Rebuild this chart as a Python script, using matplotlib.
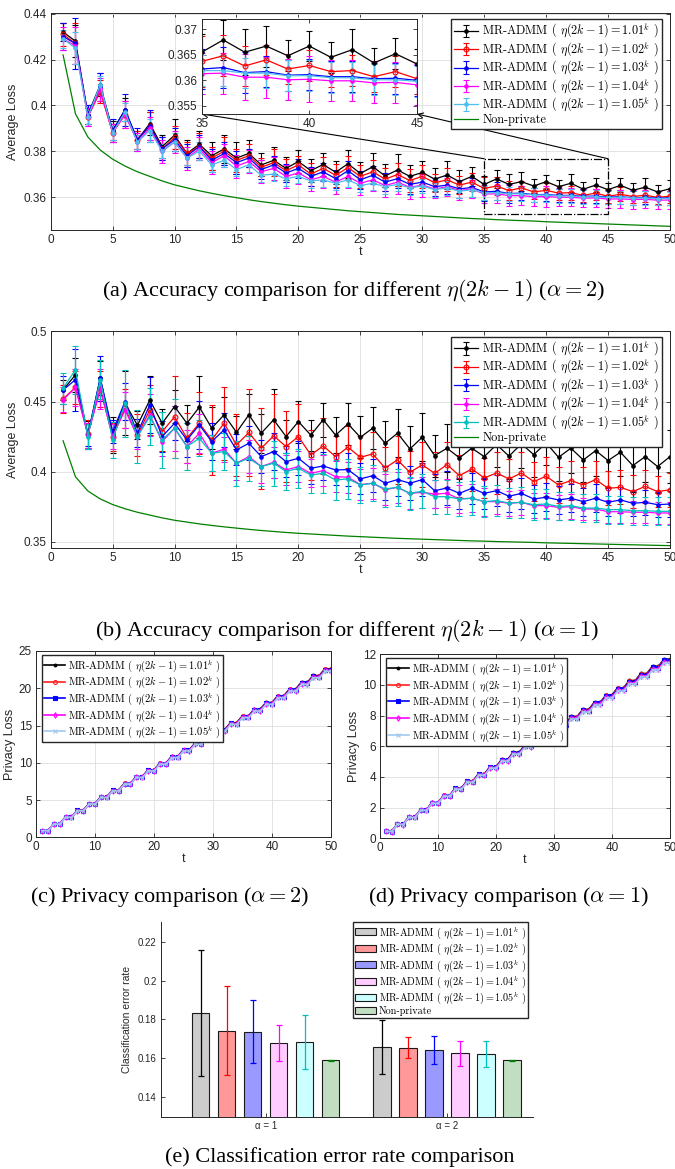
import matplotlib
matplotlib.use('Agg')
import matplotlib.pyplot as plt
from matplotlib.patches import Rectangle
from matplotlib.ticker import FormatStrFormatter
import numpy as np

plt.rcParams['font.family'] = ['Liberation Sans', 'DejaVu Sans']
plt.rcParams['mathtext.fontset'] = 'cm'
plt.rcParams['axes.unicode_minus'] = False

W, H = 675, 1169

T = np.arange(1, 51)
ETA_BASES = ['1.01', '1.02', '1.03', '1.04', '1.05']

# ---- average loss, alpha = 2 ----
A2_LOSS_101 = [0.432, 0.428, 0.396, 0.409, 0.389, 0.398, 0.385, 0.392, 0.382, 0.387,
               0.379, 0.383, 0.378, 0.381, 0.377, 0.379, 0.374, 0.376, 0.3725, 0.3755,
               0.3715, 0.3742, 0.3708, 0.3745, 0.3703, 0.3732, 0.3692, 0.3718, 0.369, 0.3707,
               0.3678, 0.3696, 0.3667, 0.369, 0.3655, 0.3679, 0.3655, 0.3667, 0.3648, 0.3667,
               0.3645, 0.366, 0.3634, 0.3652, 0.3632, 0.3651, 0.3629, 0.3643, 0.3622, 0.3636]
A2_LOSS_102 = [0.431, 0.427, 0.395, 0.406, 0.388, 0.396, 0.385, 0.391, 0.381, 0.386,
               0.379, 0.382, 0.377, 0.380, 0.376, 0.378, 0.373, 0.375, 0.3715, 0.374,
               0.370, 0.3725, 0.3695, 0.3728, 0.369, 0.371, 0.3678, 0.3698, 0.3672, 0.369,
               0.3662, 0.3675, 0.3652, 0.3665, 0.3637, 0.3648, 0.3628, 0.364, 0.3622, 0.3629,
               0.3617, 0.3619, 0.3607, 0.3617, 0.3603, 0.3612, 0.3602, 0.3608, 0.3598, 0.3604]
A2_LOSS_103 = [0.430, 0.427, 0.396, 0.408, 0.389, 0.398, 0.385, 0.391, 0.381, 0.385,
               0.378, 0.382, 0.376, 0.379, 0.375, 0.377, 0.372, 0.374, 0.3705, 0.3725,
               0.369, 0.371, 0.368, 0.3715, 0.3675, 0.3695, 0.3665, 0.368, 0.3655, 0.3665,
               0.3645, 0.3652, 0.3635, 0.3642, 0.3622, 0.3625, 0.3615, 0.3617, 0.361, 0.3611,
               0.3607, 0.3607, 0.3603, 0.3604, 0.360, 0.3601, 0.3597, 0.3598, 0.3595, 0.3596]
A2_LOSS_104 = [0.429, 0.426, 0.395, 0.407, 0.388, 0.396, 0.384, 0.390, 0.380, 0.384,
               0.377, 0.381, 0.375, 0.378, 0.3735, 0.3755, 0.371, 0.3725, 0.369, 0.3705,
               0.3675, 0.369, 0.3665, 0.369, 0.366, 0.3675, 0.365, 0.3665, 0.3642, 0.3652,
               0.3635, 0.3645, 0.3628, 0.3635, 0.3613, 0.3614, 0.3606, 0.3606, 0.3601, 0.3602,
               0.3599, 0.3599, 0.3595, 0.3596, 0.3591, 0.3592, 0.3589, 0.359, 0.3586, 0.3587]
A2_LOSS_105 = [0.429, 0.425, 0.395, 0.409, 0.388, 0.397, 0.384, 0.389, 0.380, 0.384,
               0.377, 0.380, 0.374, 0.376, 0.372, 0.374, 0.3695, 0.370, 0.368, 0.369,
               0.367, 0.3675, 0.366, 0.3675, 0.365, 0.366, 0.3645, 0.3655, 0.364, 0.3648,
               0.3632, 0.364, 0.3625, 0.3632, 0.3619, 0.3619, 0.3614, 0.3614, 0.3609, 0.3609,
               0.3605, 0.3605, 0.3601, 0.3601, 0.3598, 0.3598, 0.3596, 0.3596, 0.3593, 0.3594]

A2_ERR_101 = [0.004, 0.007, 0.004, 0.005, 0.004, 0.005, 0.004, 0.005, 0.005, 0.007,
              0.006, 0.006, 0.006, 0.006, 0.007, 0.006, 0.005, 0.006, 0.005, 0.005,
              0.005, 0.005, 0.005, 0.006, 0.005, 0.006, 0.005, 0.007, 0.005, 0.005,
              0.005, 0.006, 0.005, 0.004, 0.0035, 0.004, 0.0045, 0.004, 0.003, 0.003,
              0.003, 0.004, 0.003, 0.003, 0.003, 0.003, 0.003, 0.004, 0.003, 0.004]
A2_ERR_102 = [0.005, 0.009, 0.004, 0.005, 0.004, 0.006, 0.004, 0.006, 0.005, 0.005,
              0.005, 0.006, 0.005, 0.006, 0.005, 0.005, 0.004, 0.006, 0.005, 0.004,
              0.005, 0.005, 0.005, 0.005, 0.005, 0.005, 0.005, 0.005, 0.005, 0.005,
              0.004, 0.005, 0.004, 0.004, 0.005, 0.004, 0.004, 0.003, 0.003, 0.003,
              0.003, 0.003, 0.003, 0.003, 0.003, 0.003, 0.003, 0.003, 0.003, 0.003]
A2_ERR_103 = [0.006, 0.011, 0.004, 0.006, 0.005, 0.007, 0.005, 0.007, 0.005, 0.005,
              0.005, 0.005, 0.005, 0.005, 0.005, 0.004, 0.004, 0.004, 0.004, 0.004,
              0.004, 0.004, 0.004, 0.004, 0.004, 0.004, 0.004, 0.004, 0.004, 0.004,
              0.004, 0.004, 0.004, 0.004, 0.004, 0.004, 0.004, 0.003, 0.003, 0.003,
              0.003, 0.003, 0.003, 0.003, 0.003, 0.003, 0.003, 0.003, 0.003, 0.003]
A2_ERR_104 = [0.005, 0.008, 0.004, 0.005, 0.004, 0.006, 0.004, 0.005, 0.005, 0.005,
              0.005, 0.005, 0.005, 0.005, 0.005, 0.005, 0.005, 0.005, 0.005, 0.005,
              0.005, 0.005, 0.005, 0.005, 0.005, 0.005, 0.005, 0.005, 0.005, 0.005,
              0.004, 0.004, 0.004, 0.004, 0.004, 0.004, 0.0045, 0.004, 0.004, 0.0045,
              0.004, 0.004, 0.004, 0.004, 0.004, 0.004, 0.004, 0.004, 0.004, 0.004]
A2_ERR_105 = [0.004, 0.007, 0.003, 0.004, 0.003, 0.004, 0.003, 0.005, 0.003, 0.004,
              0.003, 0.004, 0.003, 0.003, 0.003, 0.003, 0.003, 0.003, 0.003, 0.003,
              0.003, 0.003, 0.003, 0.003, 0.003, 0.003, 0.003, 0.003, 0.003, 0.003,
              0.003, 0.003, 0.003, 0.003, 0.003, 0.003, 0.003, 0.003, 0.003, 0.003,
              0.003, 0.003, 0.003, 0.003, 0.003, 0.003, 0.003, 0.003, 0.003, 0.003]

# ---- average loss, alpha = 1 ----
A1_LOSS_101 = [0.4583, 0.469, 0.426, 0.4667, 0.426, 0.449, 0.433, 0.451, 0.4345, 0.4464,
               0.4345, 0.446, 0.431, 0.4405, 0.428, 0.4405, 0.4274, 0.437, 0.425, 0.4357,
               0.426, 0.437, 0.426, 0.434, 0.4245, 0.431, 0.4202, 0.4274, 0.4162, 0.4245,
               0.4114, 0.4167, 0.4098, 0.4167, 0.4107, 0.4193, 0.411, 0.4198, 0.4121, 0.4205,
               0.4102, 0.4167, 0.4083, 0.415, 0.4079, 0.4138, 0.4043, 0.4107, 0.4036, 0.4107]
A1_LOSS_102 = [0.4519, 0.460, 0.427, 0.459, 0.425, 0.4452, 0.426, 0.444, 0.4286, 0.439,
               0.4238, 0.4345, 0.4226, 0.4345, 0.419, 0.4279, 0.4167, 0.4255, 0.4179, 0.425,
               0.4119, 0.4183, 0.4107, 0.4174, 0.4102, 0.4126, 0.4026, 0.4083, 0.3995, 0.4048,
               0.3988, 0.405, 0.3971, 0.4019, 0.3955, 0.399, 0.3948, 0.399, 0.3929, 0.3967,
               0.3905, 0.3936, 0.3905, 0.3943, 0.3881, 0.3888, 0.3857, 0.3895, 0.3857, 0.3871]
A1_LOSS_103 = [0.4583, 0.4655, 0.426, 0.4667, 0.4286, 0.450, 0.4274, 0.4476, 0.425, 0.4345,
               0.4226, 0.4333, 0.4214, 0.4298, 0.4155, 0.4202, 0.4107, 0.4143, 0.4071, 0.4095,
               0.4024, 0.404, 0.4012, 0.4014, 0.3948, 0.3971, 0.3917, 0.3943, 0.3917, 0.3943,
               0.3864, 0.3883, 0.3845, 0.3881, 0.3845, 0.3864, 0.3824, 0.3845, 0.3805, 0.3817,
               0.3798, 0.381, 0.3786, 0.381, 0.3781, 0.3798, 0.3774, 0.3781, 0.3764, 0.3769]
A1_LOSS_104 = [0.4512, 0.460, 0.426, 0.459, 0.425, 0.444, 0.425, 0.4405, 0.4214, 0.431,
               0.4179, 0.4274, 0.4131, 0.416, 0.406, 0.4107, 0.4036, 0.4067, 0.4012, 0.4036,
               0.3988, 0.4007, 0.3964, 0.396, 0.3907, 0.3917, 0.3871, 0.3888, 0.3845, 0.3852,
               0.384, 0.3845, 0.3805, 0.381, 0.3786, 0.3786, 0.3774, 0.3781, 0.3757, 0.3757,
               0.3745, 0.375, 0.3733, 0.3733, 0.3714, 0.3714, 0.371, 0.371, 0.3705, 0.3705]
A1_LOSS_105 = [0.4595, 0.4726, 0.425, 0.4655, 0.4226, 0.4488, 0.425, 0.4393, 0.4226, 0.431,
               0.4179, 0.4238, 0.4131, 0.4143, 0.406, 0.4095, 0.4036, 0.406, 0.400, 0.4024,
               0.3976, 0.3988, 0.394, 0.3948, 0.3905, 0.3917, 0.3876, 0.3888, 0.3845, 0.386,
               0.3821, 0.3821, 0.3805, 0.381, 0.3786, 0.3793, 0.3776, 0.3781, 0.3764, 0.3769,
               0.3752, 0.3757, 0.374, 0.374, 0.3729, 0.3729, 0.3721, 0.3721, 0.3717, 0.3717]

A1_ERR_101 = [0.007, 0.012, 0.010, 0.012, 0.013, 0.023, 0.010, 0.017, 0.010, 0.012,
              0.013, 0.022, 0.015, 0.013, 0.012, 0.015, 0.014, 0.022, 0.012, 0.015,
              0.011, 0.012, 0.013, 0.015, 0.015, 0.015, 0.016, 0.017, 0.016, 0.017,
              0.015, 0.017, 0.015, 0.016, 0.016, 0.016, 0.016, 0.017, 0.016, 0.016,
              0.017, 0.018, 0.016, 0.018, 0.019, 0.017, 0.019, 0.018, 0.019, 0.019]
A1_ERR_102 = [0.010, 0.012, 0.010, 0.013, 0.010, 0.014, 0.015, 0.018, 0.014, 0.029,
              0.018, 0.022, 0.025, 0.026, 0.022, 0.031, 0.029, 0.030, 0.025, 0.023,
              0.018, 0.020, 0.015, 0.015, 0.015, 0.016, 0.015, 0.017, 0.015, 0.016,
              0.015, 0.016, 0.015, 0.016, 0.014, 0.015, 0.014, 0.015, 0.014, 0.014,
              0.013, 0.014, 0.013, 0.013, 0.012, 0.012, 0.012, 0.012, 0.011, 0.012]
A1_ERR_103 = [0.010, 0.022, 0.008, 0.016, 0.008, 0.013, 0.010, 0.020, 0.011, 0.012,
              0.012, 0.017, 0.013, 0.012, 0.011, 0.012, 0.012, 0.013, 0.011, 0.012,
              0.011, 0.010, 0.011, 0.012, 0.011, 0.012, 0.012, 0.012, 0.012, 0.012,
              0.012, 0.012, 0.011, 0.011, 0.011, 0.011, 0.011, 0.011, 0.010, 0.010,
              0.010, 0.010, 0.010, 0.010, 0.010, 0.009, 0.009, 0.009, 0.009, 0.009]
A1_ERR_104 = [0.009, 0.013, 0.009, 0.014, 0.009, 0.013, 0.009, 0.015, 0.010, 0.016,
              0.012, 0.014, 0.013, 0.009, 0.012, 0.012, 0.012, 0.011, 0.011, 0.011,
              0.010, 0.011, 0.011, 0.011, 0.011, 0.011, 0.011, 0.011, 0.011, 0.011,
              0.010, 0.010, 0.010, 0.010, 0.010, 0.009, 0.009, 0.009, 0.009, 0.009,
              0.009, 0.009, 0.008, 0.008, 0.008, 0.008, 0.008, 0.008, 0.008, 0.008]
A1_ERR_105 = [0.011, 0.017, 0.009, 0.014, 0.013, 0.024, 0.019, 0.020, 0.020, 0.021,
              0.017, 0.013, 0.013, 0.013, 0.016, 0.016, 0.014, 0.016, 0.013, 0.014,
              0.013, 0.014, 0.014, 0.014, 0.013, 0.013, 0.013, 0.013, 0.012, 0.012,
              0.012, 0.012, 0.012, 0.012, 0.011, 0.011, 0.011, 0.011, 0.011, 0.011,
              0.010, 0.010, 0.010, 0.010, 0.010, 0.010, 0.010, 0.010, 0.010, 0.010]

NONPRIVATE_LOSS = [0.4220, 0.3963, 0.3862, 0.3805, 0.3765, 0.3735, 0.3710, 0.3690, 0.3670, 0.3653,
                   0.3640, 0.3627, 0.3616, 0.3606, 0.3597, 0.3588, 0.3580, 0.3573, 0.3566, 0.3560,
                   0.3555, 0.3550, 0.3545, 0.3540, 0.3536, 0.3532, 0.3528, 0.3524, 0.3521, 0.3518,
                   0.3515, 0.3512, 0.3509, 0.3506, 0.3504, 0.3501, 0.3499, 0.3497, 0.3495, 0.3492,
                   0.3490, 0.3488, 0.3486, 0.3484, 0.3482, 0.3480, 0.3478, 0.3476, 0.3474, 0.3472]

# ---- privacy loss ----
PRIV_A2_101 = [0.91, 0.88, 1.81, 1.78, 2.72, 2.69, 3.62, 3.59, 4.53, 4.50,
               5.43, 5.40, 6.34, 6.31, 7.24, 7.21, 8.15, 8.12, 9.05, 9.02,
               9.96, 9.93, 10.86, 10.83, 11.77, 11.74, 12.67, 12.64, 13.58, 13.55,
               14.48, 14.45, 15.39, 15.36, 16.29, 16.26, 17.20, 17.17, 18.10, 18.07,
               19.01, 18.98, 19.91, 19.88, 20.82, 20.79, 21.72, 21.69, 22.63, 22.60]
PRIV_A2_102 = [0.90, 0.87, 1.80, 1.77, 2.71, 2.68, 3.61, 3.58, 4.51, 4.48,
               5.41, 5.38, 6.31, 6.28, 7.22, 7.19, 8.12, 8.09, 9.02, 8.99,
               9.92, 9.89, 10.82, 10.79, 11.73, 11.70, 12.63, 12.60, 13.53, 13.50,
               14.43, 14.40, 15.33, 15.30, 16.24, 16.21, 17.14, 17.11, 18.04, 18.01,
               18.94, 18.91, 19.84, 19.81, 20.75, 20.72, 21.65, 21.62, 22.55, 22.52]
PRIV_A2_103 = [0.90, 0.87, 1.80, 1.77, 2.70, 2.67, 3.60, 3.57, 4.50, 4.47,
               5.39, 5.36, 6.29, 6.26, 7.19, 7.16, 8.09, 8.06, 8.99, 8.96,
               9.89, 9.86, 10.79, 10.76, 11.69, 11.66, 12.59, 12.56, 13.49, 13.46,
               14.38, 14.35, 15.28, 15.25, 16.18, 16.15, 17.08, 17.05, 17.98, 17.95,
               18.88, 18.85, 19.78, 19.75, 20.68, 20.65, 21.58, 21.55, 22.48, 22.45]
PRIV_A2_104 = [0.90, 0.87, 1.79, 1.76, 2.69, 2.66, 3.58, 3.55, 4.48, 4.45,
               5.38, 5.35, 6.27, 6.24, 7.17, 7.14, 8.06, 8.03, 8.96, 8.93,
               9.86, 9.83, 10.75, 10.72, 11.65, 11.62, 12.54, 12.51, 13.44, 13.41,
               14.34, 14.31, 15.23, 15.20, 16.13, 16.10, 17.02, 16.99, 17.92, 17.89,
               18.82, 18.79, 19.71, 19.68, 20.61, 20.58, 21.50, 21.47, 22.40, 22.37]
PRIV_A2_105 = [0.89, 0.86, 1.78, 1.75, 2.68, 2.65, 3.57, 3.54, 4.46, 4.43,
               5.35, 5.32, 6.24, 6.21, 7.14, 7.11, 8.03, 8.00, 8.92, 8.89,
               9.81, 9.78, 10.70, 10.67, 11.60, 11.57, 12.49, 12.46, 13.38, 13.35,
               14.27, 14.24, 15.16, 15.13, 16.06, 16.03, 16.95, 16.92, 17.84, 17.81,
               18.73, 18.70, 19.62, 19.59, 20.52, 20.49, 21.41, 21.38, 22.30, 22.27]

PRIV_A1_101 = [0.47, 0.45, 0.94, 0.92, 1.40, 1.38, 1.87, 1.85, 2.34, 2.32,
               2.81, 2.79, 3.28, 3.26, 3.74, 3.72, 4.21, 4.19, 4.68, 4.66,
               5.15, 5.13, 5.62, 5.60, 6.08, 6.06, 6.55, 6.53, 7.02, 7.00,
               7.49, 7.47, 7.96, 7.94, 8.42, 8.40, 8.89, 8.87, 9.36, 9.34,
               9.83, 9.81, 10.30, 10.28, 10.76, 10.74, 11.23, 11.21, 11.70, 11.68]
PRIV_A1_102 = [0.47, 0.45, 0.93, 0.91, 1.40, 1.38, 1.86, 1.84, 2.33, 2.31,
               2.80, 2.78, 3.26, 3.24, 3.73, 3.71, 4.19, 4.17, 4.66, 4.64,
               5.13, 5.11, 5.59, 5.57, 6.06, 6.04, 6.52, 6.50, 6.99, 6.97,
               7.46, 7.44, 7.92, 7.90, 8.39, 8.37, 8.85, 8.83, 9.32, 9.30,
               9.79, 9.77, 10.25, 10.23, 10.72, 10.70, 11.18, 11.16, 11.65, 11.63]
PRIV_A1_103 = [0.46, 0.44, 0.93, 0.91, 1.39, 1.37, 1.86, 1.84, 2.32, 2.30,
               2.78, 2.76, 3.25, 3.23, 3.71, 3.69, 4.18, 4.16, 4.64, 4.62,
               5.10, 5.08, 5.57, 5.55, 6.03, 6.01, 6.50, 6.48, 6.96, 6.94,
               7.42, 7.40, 7.89, 7.87, 8.35, 8.33, 8.82, 8.80, 9.28, 9.26,
               9.74, 9.72, 10.21, 10.19, 10.67, 10.65, 11.14, 11.12, 11.60, 11.58]
PRIV_A1_104 = [0.46, 0.44, 0.92, 0.90, 1.38, 1.36, 1.84, 1.82, 2.31, 2.29,
               2.77, 2.75, 3.23, 3.21, 3.69, 3.67, 4.15, 4.13, 4.61, 4.59,
               5.07, 5.05, 5.53, 5.51, 5.99, 5.97, 6.45, 6.43, 6.92, 6.90,
               7.38, 7.36, 7.84, 7.82, 8.30, 8.28, 8.76, 8.74, 9.22, 9.20,
               9.68, 9.66, 10.14, 10.12, 10.60, 10.58, 11.06, 11.04, 11.53, 11.51]
PRIV_A1_105 = [0.46, 0.44, 0.92, 0.90, 1.37, 1.35, 1.83, 1.81, 2.29, 2.27,
               2.75, 2.73, 3.21, 3.19, 3.66, 3.64, 4.12, 4.10, 4.58, 4.56,
               5.04, 5.02, 5.50, 5.48, 5.95, 5.93, 6.41, 6.39, 6.87, 6.85,
               7.33, 7.31, 7.79, 7.77, 8.24, 8.22, 8.70, 8.68, 9.16, 9.14,
               9.62, 9.60, 10.08, 10.06, 10.53, 10.51, 10.99, 10.97, 11.45, 11.43]

# ---- classification error rate (6 methods, last = non-private) ----
METHOD_NAMES = ['1.01', '1.02', '1.03', '1.04', '1.05', 'Non-private']
ALPHA_GROUPS = ['α = 1', 'α = 2']
CER_A1 = [0.1834, 0.1742, 0.1738, 0.1681, 0.1683, 0.1591]
CER_A1_STD = [0.0325, 0.0230, 0.0164, 0.0093, 0.0138, 0.0002]
CER_A2 = [0.1660, 0.1655, 0.1643, 0.1626, 0.1624, 0.1591]
CER_A2_STD = [0.0139, 0.0054, 0.0072, 0.0065, 0.0066, 0.0002]

# zoomed window shown in the inset of (a)
ZOOM_T = (35, 45)
ZOOM_LOSS = (0.3525, 0.3767)

AX_GREY = '#262626'
GREEN = '#008000'
TICK_FS = 8.5
LABEL_FS = 9


def series_label(base):
    return r'MR-ADMM ( $\eta(2k-1)=%s^k$ )' % base


def px_axes(fig, left, top, right, bottom):
    return fig.add_axes([left / W, 1 - bottom / H, (right - left) / W, (bottom - top) / H])


def style_axes(ax, grid=True, size=TICK_FS, box=True):
    ax.tick_params(direction='in', top=box, right=box, length=3, width=0.6,
                   labelsize=size, colors=AX_GREY, pad=3)
    for name, s in ax.spines.items():
        s.set_linewidth(0.7)
        s.set_color(AX_GREY)
        if not box and name in ('top', 'right'):
            s.set_visible(False)
    if grid:
        ax.grid(True, color='#dedede', lw=0.6)
        ax.set_axisbelow(True)


def add_legend(ax, handles, loc, anchor, size, spacing=0.0, pad=0.3):
    ax.legend(handles=handles, loc=loc, bbox_to_anchor=anchor,
              prop={'family': 'cmr10', 'size': size}, fancybox=False, framealpha=1,
              edgecolor=AX_GREY, borderpad=pad, labelspacing=spacing,
              handlelength=2.0, handletextpad=0.3, borderaxespad=0)


def caption(fig, x, y, text, size=16):
    fig.text(x / W, 1 - y / H, text, ha='center', va='center', fontsize=size,
             family='Liberation Serif', math_fontfamily='cm')


def draw_loss(ax, means, errs, colors, markers):
    handles = []
    for m, e, c, mk, base in zip(means, errs, colors, markers, ETA_BASES):
        h = ax.errorbar(T, m, yerr=e, color=c, marker=mk, ms=3.5 if mk == 'o' else 5,
                        mfc='none' if mk == 'o' else c, mew=0.8, lw=0.9,
                        elinewidth=0.8, capsize=2, capthick=0.8, label=series_label(base))
        handles.append(h)
    handles += ax.plot(T, NONPRIVATE_LOSS, color=GREEN, lw=0.9, label='Non-private')
    return handles


fig = plt.figure(figsize=(W / 100, H / 100), dpi=100)

# ---------------- (a) ----------------
a2_means = [A2_LOSS_101, A2_LOSS_102, A2_LOSS_103, A2_LOSS_104, A2_LOSS_105]
a2_errs = [A2_ERR_101, A2_ERR_102, A2_ERR_103, A2_ERR_104, A2_ERR_105]
a2_colors = ['k', '#ff0000', '#0000ff', '#ff00ff', '#4dbeee']
loss_markers = ['.', 'o', '.', '.', '.']

ax = px_axes(fig, 50.7, 13, 670, 230)
hs = draw_loss(ax, a2_means, a2_errs, a2_colors, loss_markers)
ax.set_xlim(0, 50)
ax.set_ylim(0.3456, 0.4403)
ax.set_xticks(range(0, 51, 5))
ax.set_yticks([0.36, 0.38, 0.40, 0.42, 0.44])
ax.yaxis.set_major_formatter(FormatStrFormatter('%g'))
style_axes(ax)
ax.set_xlabel('t', fontsize=LABEL_FS, color=AX_GREY, labelpad=0)
ax.set_ylabel('Average Loss', fontsize=LABEL_FS, color=AX_GREY, labelpad=3)
add_legend(ax, hs, 'upper right', (0.987, 0.973), 8.8, pad=0.25)
ax.add_patch(Rectangle((ZOOM_T[0], ZOOM_LOSS[0]), ZOOM_T[1] - ZOOM_T[0],
                       ZOOM_LOSS[1] - ZOOM_LOSS[0], fill=False, ls='-.', lw=0.9, ec='k', zorder=5))

axins = px_axes(fig, 201.7, 19, 417, 114)
draw_loss(axins, a2_means, a2_errs, a2_colors, loss_markers)
axins.set_xlim(*ZOOM_T)
axins.set_ylim(0.3534, 0.372)
axins.set_xticks([35, 40, 45])
axins.set_yticks([0.355, 0.36, 0.365, 0.37])
axins.yaxis.set_major_formatter(FormatStrFormatter('%g'))
style_axes(axins, grid=False)
for corner, tx in ((0, ZOOM_T[0]), (1, ZOOM_T[1])):
    ax.annotate('', xy=(corner, 0), xycoords=axins.transAxes,
                xytext=(tx, ZOOM_LOSS[1]), textcoords='data', annotation_clip=False,
                arrowprops=dict(arrowstyle='->', lw=0.8, color='k', mutation_scale=9,
                                shrinkA=0, shrinkB=0))

caption(fig, 354, 290, r'(a) Accuracy comparison for different $\eta(2k-1)$ ($\alpha=2$)')

# ---------------- (b) ----------------
a1_means = [A1_LOSS_101, A1_LOSS_102, A1_LOSS_103, A1_LOSS_104, A1_LOSS_105]
a1_errs = [A1_ERR_101, A1_ERR_102, A1_ERR_103, A1_ERR_104, A1_ERR_105]
a1_colors = ['k', '#ff0000', '#0000ff', '#ff00ff', '#00bfbf']

bx = px_axes(fig, 50.7, 330.7, 670, 548.3)
hs = draw_loss(bx, a1_means, a1_errs, a1_colors, loss_markers)
bx.set_xlim(0, 50)
bx.set_ylim(0.3453, 0.5005)
bx.set_xticks(range(0, 51, 5))
bx.set_yticks([0.35, 0.40, 0.45, 0.50])
bx.yaxis.set_major_formatter(FormatStrFormatter('%g'))
style_axes(bx)
bx.set_xlabel('t', fontsize=LABEL_FS, color=AX_GREY, labelpad=0)
bx.set_ylabel('Average Loss', fontsize=LABEL_FS, color=AX_GREY, labelpad=3)
add_legend(bx, hs, 'upper right', (0.987, 0.973), 8.8, pad=0.25)
caption(fig, 347, 630, r'(b) Accuracy comparison for different $\eta(2k-1)$ ($\alpha=1$)')

# ---------------- (c), (d) privacy ----------------
priv_colors = ['k', '#ff2020', '#0000ff', '#ff00ff', '#a0c8f0']
priv_markers = ['.', 'o', 's', 'd', 'x']


def draw_privacy(ax, series, ymax, ystep):
    handles = []
    for vals, c, mk, base in zip(series, priv_colors, priv_markers, ETA_BASES):
        hollow = mk in ('o', 'd')
        handles += ax.plot(T, vals, color=c, marker=mk, ms=4 if mk == '.' else 2.8,
                           mfc='none' if hollow else c, mew=0.8, lw=1.2,
                           label=series_label(base))
    ax.set_xlim(0, 50)
    ax.set_ylim(0, ymax)
    ax.set_xticks(range(0, 51, 10))
    ax.set_yticks(np.arange(0, ymax + 0.1, ystep))
    style_axes(ax)
    ax.set_xlabel('t', fontsize=LABEL_FS, color=AX_GREY, labelpad=0)
    ax.set_ylabel('Privacy Loss', fontsize=LABEL_FS, color=AX_GREY, labelpad=2)
    add_legend(ax, handles, 'upper left', (0.02, 0.978), 7.6, pad=0.2)


cx = px_axes(fig, 36, 651, 331, 837.3)
draw_privacy(cx, [PRIV_A2_101, PRIV_A2_102, PRIV_A2_103, PRIV_A2_104, PRIV_A2_105], 25, 5)
caption(fig, 170, 897, r'(c) Privacy comparison ($\alpha=2$)')

dx = px_axes(fig, 380, 654.3, 670, 838.3)
draw_privacy(dx, [PRIV_A1_101, PRIV_A1_102, PRIV_A1_103, PRIV_A1_104, PRIV_A1_105], 12, 2)
caption(fig, 508, 897, r'(d) Privacy comparison ($\alpha=1$)')

# ---------------- (e) classification error ----------------
bar_faces = ['#cccccc', '#ff9999', '#9999ff', '#ffccff', '#ccffff', '#c2dec2']
bar_err_colors = ['k', '#ff0000', '#0000ff', '#ff00ff', '#00bfbf', GREEN]

ex = px_axes(fig, 161, 921.7, 533.3, 1116.7)
group_x = np.arange(1, len(ALPHA_GROUPS) + 1)
bar_w = 0.096
step = 0.1434
bar_handles = []
for i, name in enumerate(METHOD_NAMES):
    xs = group_x + (i - (len(METHOD_NAMES) - 1) / 2) * step
    label = name if name == 'Non-private' else series_label(name)
    bar_handles.append(ex.bar(xs, [CER_A1[i], CER_A2[i]], width=bar_w, color=bar_faces[i],
                              edgecolor='#1a1a1a', lw=0.8, label=label))
    ex.errorbar(xs, [CER_A1[i], CER_A2[i]], yerr=[CER_A1_STD[i], CER_A2_STD[i]],
                fmt='none', ecolor=bar_err_colors[i], elinewidth=0.9, capsize=2, capthick=0.9)
ex.set_xlim(0.423, 2.476)
ex.set_ylim(0.13, 0.2303)
ex.set_xticks(group_x)
ex.set_xticklabels(ALPHA_GROUPS)
ex.set_yticks([0.14, 0.16, 0.18, 0.20, 0.22])
ex.yaxis.set_major_formatter(FormatStrFormatter('%g'))
style_axes(ex, grid=False, size=7, box=False)
ex.set_ylabel('Classification error rate', fontsize=7.5, color=AX_GREY, labelpad=4)
add_legend(ex, bar_handles, 'upper right', (0.985, 0.998), 7.3, pad=0.2)
caption(fig, 340, 1157, '(e) Classification error rate comparison')

fig.savefig('out.png', dpi=100)
